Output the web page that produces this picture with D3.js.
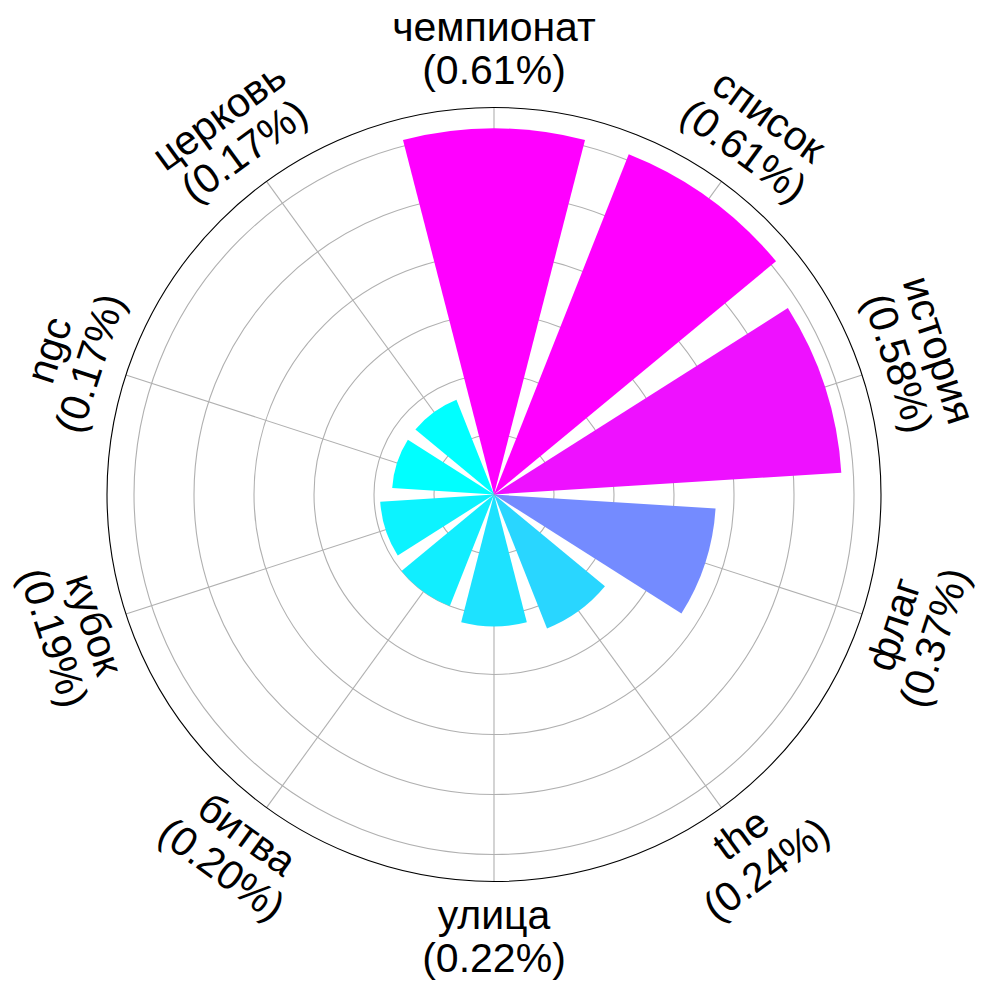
<!DOCTYPE html>
<html>
<head>
<meta charset="utf-8">
<script src="https://cdn.jsdelivr.net/npm/d3@7"></script>
<style>
  html, body { margin: 0; padding: 0; background: #fff; }
  svg { display: block; }
</style>
</head>
<body>
<div id="chart"></div>
<script>
// ---- data ----
const categories = ["чемпионат", "список", "история", "флаг", "the", "улица", "битва", "кубок", "ngc", "церковь"];
const values = [0.61, 0.61, 0.58, 0.37, 0.24, 0.22, 0.20, 0.19, 0.17, 0.17];   // percent
const valueLabels = ["0.61%", "0.61%", "0.58%", "0.37%", "0.24%", "0.22%", "0.20%", "0.19%", "0.17%", "0.17%"];
const radialTicks = [0.1, 0.2, 0.3, 0.4, 0.5, 0.6];
const radialMax = 0.645;

// ---- layout ----
const W = 989, H = 990;
const cx = 494, cy = 494.5;
const R = 387;
const labelR = 444;
const fontSize = 41;

const svg = d3.select("#chart").append("svg")
  .attr("width", W).attr("height", H);

const g = svg.append("g").attr("transform", `translate(${cx},${cy})`);

const n = categories.length;
const step = 2 * Math.PI / n;
const centerAngle = c => categories.indexOf(c) * step;

const r = d3.scaleLinear().domain([0, radialMax]).range([0, R]);

const norm = d3.scaleLinear().domain([d3.min(values), d3.max(values)]).range([0, 1]).clamp(true);
const cool = t => d3.rgb(255 * t, 255 * (1 - t), 255).toString();

// grid rings
g.append("g").selectAll("circle").data(radialTicks).join("circle")
  .attr("r", d => r(d))
  .attr("fill", "none")
  .attr("stroke", "#b0b0b0")
  .attr("stroke-width", 1.1);

// radial grid lines
g.append("g").selectAll("line").data(categories).join("line")
  .attr("x1", 0).attr("y1", 0)
  .attr("x2", d => R * Math.sin(centerAngle(d)))
  .attr("y2", d => -R * Math.cos(centerAngle(d)))
  .attr("stroke", "#b0b0b0")
  .attr("stroke-width", 1.1);

// bars
const arc = d3.arc()
  .innerRadius(0)
  .outerRadius(d => r(d.v))
  .startAngle(d => centerAngle(d.c) - 0.4 * step)
  .endAngle(d => centerAngle(d.c) + 0.4 * step);

const barData = categories.map((c, i) => ({ c, v: values[i] }));
g.append("g").selectAll("path").data(barData).join("path")
  .attr("d", arc)
  .attr("fill", d => cool(norm(d.v)));

// outer circle
g.append("circle").attr("r", R)
  .attr("fill", "none").attr("stroke", "#000").attr("stroke-width", 1.1);

// labels
const labels = g.append("g")
  .attr("font-family", "'Liberation Sans', Arial, sans-serif")
  .attr("font-size", fontSize)
  .attr("fill", "#000")
  .attr("text-anchor", "middle");

categories.forEach((c, i) => {
  const a = centerAngle(c);
  const deg = a * 180 / Math.PI;
  let rot;
  if (deg <= 90) rot = deg;
  else if (deg < 270) rot = deg - 180;
  else rot = deg - 360;
  const x = labelR * Math.sin(a), y = -labelR * Math.cos(a);
  const t = labels.append("text")
    .attr("transform", `translate(${x},${y}) rotate(${rot})`);
  t.append("tspan").attr("x", 0).attr("y", -10).text(c);
  t.append("tspan").attr("x", 0).attr("y", 33).text(`(${valueLabels[i]})`);
});
</script>
</body>
</html>
